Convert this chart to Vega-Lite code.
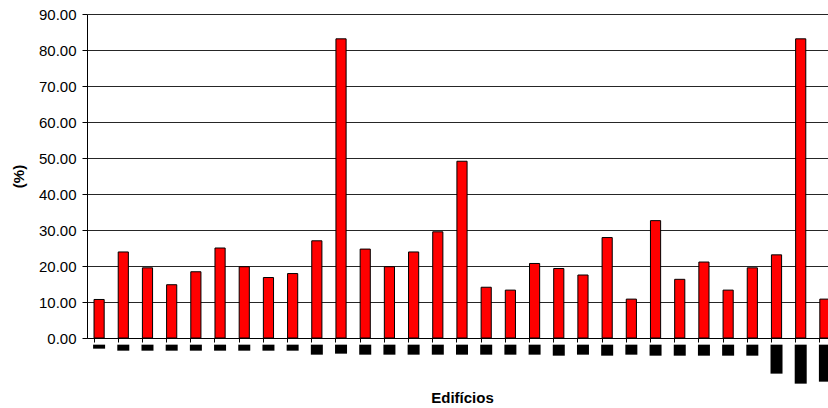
{
  "$schema": "https://vega.github.io/schema/vega-lite/v6.json",
  "autosize": "none",
  "width": 750,
  "height": 324,
  "padding": {"left": 87, "top": 14, "right": 0, "bottom": 70},
  "background": "white",
  "config": {
    "view": {"stroke": null},
    "font": "Liberation Sans"
  },
  "data": {
    "values": [
      {"edificio": 1, "valor": 10.7, "box": -2.96},
      {"edificio": 2, "valor": 23.9, "box": -3.52},
      {"edificio": 3, "valor": 19.5, "box": -3.52},
      {"edificio": 4, "valor": 14.8, "box": -3.52},
      {"edificio": 5, "valor": 18.4, "box": -3.52},
      {"edificio": 6, "valor": 25.0, "box": -3.52},
      {"edificio": 7, "valor": 19.8, "box": -3.52},
      {"edificio": 8, "valor": 16.8, "box": -3.52},
      {"edificio": 9, "valor": 17.9, "box": -3.52},
      {"edificio": 10, "valor": 27.0, "box": -4.63},
      {"edificio": 11, "valor": 83.1, "box": -4.35},
      {"edificio": 12, "valor": 24.7, "box": -4.63},
      {"edificio": 13, "valor": 19.8, "box": -4.63},
      {"edificio": 14, "valor": 23.9, "box": -4.63},
      {"edificio": 15, "valor": 29.5, "box": -4.63},
      {"edificio": 16, "valor": 49.1, "box": -4.63},
      {"edificio": 17, "valor": 14.1, "box": -4.63},
      {"edificio": 18, "valor": 13.3, "box": -4.63},
      {"edificio": 19, "valor": 20.7, "box": -4.63},
      {"edificio": 20, "valor": 19.3, "box": -4.91},
      {"edificio": 21, "valor": 17.5, "box": -4.63},
      {"edificio": 22, "valor": 27.9, "box": -4.91},
      {"edificio": 23, "valor": 10.8, "box": -4.63},
      {"edificio": 24, "valor": 32.6, "box": -4.91},
      {"edificio": 25, "valor": 16.3, "box": -4.91},
      {"edificio": 26, "valor": 21.1, "box": -4.91},
      {"edificio": 27, "valor": 13.3, "box": -4.91},
      {"edificio": 28, "valor": 19.5, "box": -4.91},
      {"edificio": 29, "valor": 23.1, "box": -9.9},
      {"edificio": 30, "valor": 83.1, "box": -12.68},
      {"edificio": 31, "valor": 10.8, "box": -12.13}
    ]
  },
  "encoding": {
    "x": {
      "field": "edificio",
      "type": "ordinal",
      "scale": {"paddingInner": 0.58, "paddingOuter": 0.29},
      "axis": {
        "title": "Edifícios",
        "titleFont": "Liberation Sans",
        "titleFontSize": 15,
        "titleFontWeight": "bold",
        "titleColor": "#000000",
        "titlePadding": 48,
        "labels": false,
        "bandPosition": 0,
        "domainColor": "#000000",
        "domainWidth": 1,
        "tickColor": "#000000",
        "tickSize": 4,
        "grid": false
      }
    }
  },
  "layer": [
    {
      "mark": {"type": "bar", "fill": "#ff0000", "stroke": "#000000", "strokeWidth": 1},
      "encoding": {
        "y": {
          "field": "valor",
          "type": "quantitative",
          "scale": {"domain": [0, 90], "nice": false},
          "axis": {
            "title": "(%)",
            "titleFont": "Liberation Sans",
            "titleFontSize": 15,
            "titleFontWeight": "bold",
            "titleColor": "#000000",
            "titlePadding": 12,
            "values": [0, 10, 20, 30, 40, 50, 60, 70, 80, 90],
            "tickCount": 10,
            "format": ".2f",
            "labelOverlap": false,
            "labelFont": "Liberation Sans",
            "labelFontSize": 15,
            "labelColor": "#000000",
            "labelPadding": 6,
            "domainColor": "#000000",
            "tickColor": "#000000",
            "tickSize": 5,
            "grid": true,
            "gridColor": "#000000",
            "gridOpacity": 0.85,
            "gridWidth": 1
          }
        }
      }
    },
    {
      "mark": {"type": "bar", "color": "#000000", "width": 12},
      "encoding": {
        "y": {
          "field": "box",
          "type": "quantitative",
          "scale": {"domain": [0, 90], "nice": false},
          "axis": {
            "title": "(%)",
            "titleFont": "Liberation Sans",
            "titleFontSize": 15,
            "titleFontWeight": "bold",
            "titleColor": "#000000",
            "titlePadding": 12,
            "values": [0, 10, 20, 30, 40, 50, 60, 70, 80, 90],
            "tickCount": 10,
            "format": ".2f",
            "labelOverlap": false,
            "labelFont": "Liberation Sans",
            "labelFontSize": 15,
            "labelColor": "#000000",
            "labelPadding": 6,
            "domainColor": "#000000",
            "tickColor": "#000000",
            "tickSize": 5,
            "grid": true,
            "gridColor": "#000000",
            "gridOpacity": 0.85,
            "gridWidth": 1
          }
        },
        "y2": {"datum": -1.85}
      }
    }
  ]
}
